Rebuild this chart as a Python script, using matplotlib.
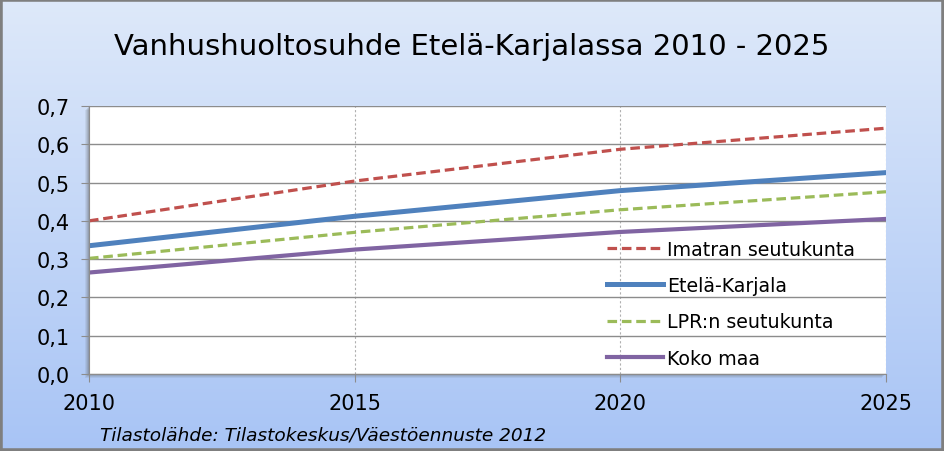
import numpy as np
import matplotlib
matplotlib.use('Agg')
import matplotlib.pyplot as plt
import matplotlib.patches as mpatches
from matplotlib.ticker import FuncFormatter

years = [2010, 2015, 2020, 2025]
imatra = [0.400, 0.504, 0.587, 0.642]
ekarjala = [0.335, 0.412, 0.479, 0.526]
lpr = [0.302, 0.370, 0.429, 0.476]
koko = [0.265, 0.325, 0.371, 0.405]

labels = ['Imatran seutukunta', 'Etelä-Karjala', 'LPR:n seutukunta', 'Koko maa']
title = 'Vanhushuoltosuhde Etelä-Karjalassa 2010 - 2025'
source = 'Tilastolähde: Tilastokeskus/Väestöennuste 2012'

W, H = 944, 452
fig = plt.figure(figsize=(W/100, H/100), dpi=100)

# background gradient
bg = fig.add_axes([0, 0, 1, 1], zorder=-10)
top = np.array([222, 233, 250]) / 255
bot = np.array([168, 196, 245]) / 255
t = np.linspace(0, 1, 256)[:, None]
grad = top[None, :] * (1 - t) + bot[None, :] * t
grad = np.repeat(grad[:, None, :], 2, axis=1)
bg.imshow(grad, aspect='auto', extent=[0, 1, 0, 1])
bg.add_patch(mpatches.Rectangle((0, 0), 1, 1, transform=bg.transAxes,
                                facecolor='none', edgecolor='#7f7f7f', linewidth=4))
bg.set_xlim(0, 1); bg.set_ylim(0, 1)
bg.axis('off')

L, R, B, T = 89/W, 886/W, (H-375)/H, (H-107)/H
# shadow of the plot area
for i, a in enumerate([0.10, 0.12, 0.15, 0.2]):
    off = (4 - i)
    fig.patches.append(mpatches.Rectangle((L - off/W, B - off/H), R - L, T - B,
                       transform=fig.transFigure, facecolor='#606060', alpha=a,
                       edgecolor='none', zorder=-5))

ax = fig.add_axes([L, B, R - L, T - B])
ax.set_facecolor('white')

ax.plot(years, imatra, color='#c0504d', lw=2.3, ls=(0, (3, 1.5)), label=labels[0])
ax.plot(years, ekarjala, color='#4f81bd', lw=3.6, label=labels[1])
ax.plot(years, lpr, color='#9bbb59', lw=2.3, ls=(0, (3, 1.5)), label=labels[2])
ax.plot(years, koko, color='#8064a2', lw=3.0, label=labels[3])

ax.set_xlim(2010, 2025)
ax.set_ylim(0, 0.7)
ax.set_xticks(years)
ax.set_yticks(np.arange(0, 0.71, 0.1))
ax.yaxis.set_major_formatter(FuncFormatter(lambda v, p: f'{v:.1f}'.replace('.', ',')))
ax.grid(axis='y', color='#8c8c8c', lw=1.0)
for x in years[1:]:
    ax.axvline(x, color='#b0b0b0', lw=0.8, ls=(0, (2, 2)), zorder=0.5)
ax.set_axisbelow(True)
for s in ['top', 'right']:
    ax.spines[s].set_visible(False)
ax.spines['left'].set_color('#8c8c8c')
ax.spines['bottom'].set_color('#8c8c8c')
ax.tick_params(axis='both', direction='out', length=6, color='#8c8c8c',
               labelsize=15, labelcolor='black')
ax.tick_params(axis='y', pad=8)
ax.tick_params(axis='x', pad=8)

leg = ax.legend(loc='upper left', bbox_to_anchor=(0.64, 0.53), frameon=False,
                fontsize=13.7, handlelength=2.95, handletextpad=0.2,
                labelspacing=0.91, borderaxespad=0)

fig.text(0.5, (H-47)/H, title, ha='center', va='center', fontsize=21)
fig.text(100/W, (H-436)/H, source, ha='left', va='center', fontsize=13.3,
         style='italic')

fig.savefig('out.png', dpi=100)
